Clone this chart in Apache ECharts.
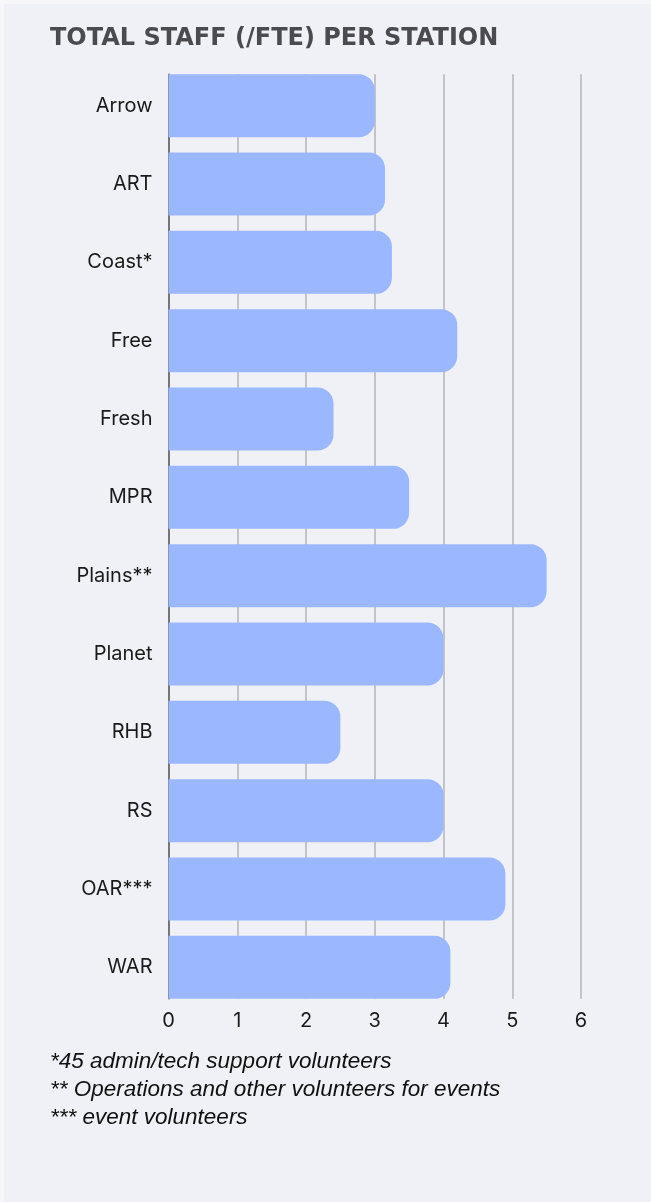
<!DOCTYPE html>
<html>
<head>
<meta charset="utf-8">
<script src="https://cdn.jsdelivr.net/npm/echarts@6/dist/echarts.min.js"></script>
<style>
  html, body { margin: 0; padding: 0; background: #f7f7f9; }
  #main { width: 651px; height: 1202px; }
</style>
</head>
<body>
<div id="main"></div>
<script>
// 数据
var stations = ['Arrow', 'ART', 'Coast*', 'Free', 'Fresh', 'MPR', 'Plains**', 'Planet', 'RHB', 'RS', 'OAR***', 'WAR'];
var staffFte = [3.0, 3.15, 3.25, 4.2, 2.4, 3.5, 5.5, 4.0, 2.5, 4.0, 4.9, 4.1];
var footnotes = [
    '*45 admin/tech support volunteers',
    '** Operations and other volunteers for events',
    '*** event volunteers'
];
var titleText = 'TOTAL STAFF (/FTE) PER STATION';

var chart = echarts.init(document.getElementById('main'));

// 注释文字
var noteGraphics = [];
for (let i = 0; i < footnotes.length; i++) {
    noteGraphics.push({
        type: 'text',
        left: 50,
        top: 1050 + i * 28,
        style: {
            text: footnotes[i],
            font: 'italic 22.5px "Liberation Sans", Arial, sans-serif',
            fill: '#111'
        }
    });
}

var option = {
    animation: false,
    backgroundColor: '#f7f7f9',
    title: {
        text: titleText,
        left: 45,
        top: 22,
        textStyle: {
            fontFamily: 'DejaVu Sans',
            fontSize: 24,
            fontWeight: 'bold',
            color: '#4a4a4f'
        }
    },
    graphic: [
        {
            type: 'rect',
            z: -10,
            shape: { x: 4, y: 4, width: 647, height: 1198 },
            style: { fill: '#f0f1f6' }
        }
    ].concat(noteGraphics),
    grid: [
        // 柱子用
        { left: 168.5, right: 70, top: 66.5, bottom: 195.5 },
        // 网格线和刻度用
        { left: 168.5, right: 70, top: 74.3, bottom: 203.3 }
    ],
    xAxis: [
        { type: 'value', gridIndex: 0, min: 0, max: 6, interval: 1, show: false },
        {
            type: 'value', gridIndex: 1, min: 0, max: 6, interval: 1,
            axisLine: { show: false },
            axisTick: { show: false },
            axisLabel: {
                margin: 12,
                fontFamily: 'Inter',
                fontSize: 20,
                color: '#1a1a1a'
            },
            splitLine: { show: true, lineStyle: { color: '#b5b5ba', width: 1.5 } }
        }
    ],
    yAxis: [
        {
            type: 'category', gridIndex: 0, inverse: true,
            data: stations,
            axisLine: { show: false },
            axisTick: { show: false },
            axisLabel: {
                margin: 16,
                fontFamily: 'Inter',
                fontSize: 20,
                color: '#1a1a1a'
            }
        },
        {
            type: 'category', gridIndex: 1, inverse: true,
            data: stations,
            axisLine: { show: true, lineStyle: { color: '#5a5a5e', width: 1.5 } },
            axisTick: { show: false },
            axisLabel: { show: false }
        }
    ],
    series: [
        {
            type: 'bar',
            xAxisIndex: 0,
            yAxisIndex: 0,
            data: staffFte,
            barWidth: 63,
            itemStyle: {
                color: '#9bb7fe',
                borderRadius: [0, 16, 16, 0]
            }
        }
    ]
};
chart.setOption(option);
</script>
</body>
</html>
